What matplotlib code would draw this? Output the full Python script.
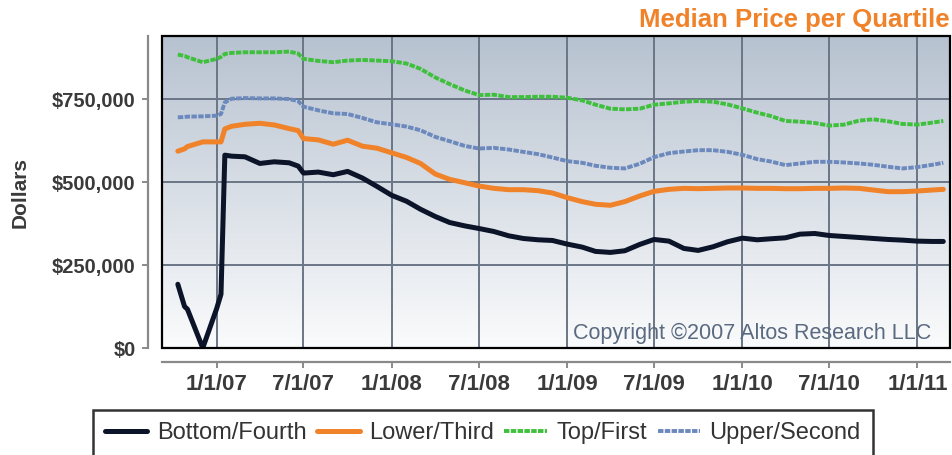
import numpy as np
import pandas as pd
import matplotlib
matplotlib.use("Agg")
import matplotlib.pyplot as plt
from matplotlib.colors import LinearSegmentedColormap
from matplotlib.patches import Rectangle
from matplotlib.ticker import FuncFormatter

plt.rcParams['font.family'] = ['Liberation Sans', 'DejaVu Sans']

# dates of the readings (one list shared by the four quartiles)
dates = ["2006-10-12", "2006-10-26", "2006-11-01", "2006-12-03", "2007-01-01",
         "2007-01-10", "2007-01-18", "2007-02-01", "2007-03-01", "2007-04-01",
         "2007-05-01", "2007-06-01", "2007-06-20", "2007-07-01", "2007-08-01",
         "2007-09-01", "2007-10-01", "2007-11-01", "2007-12-01", "2008-01-01",
         "2008-02-01", "2008-03-01", "2008-04-01", "2008-05-01", "2008-06-01",
         "2008-07-01", "2008-08-01", "2008-09-01", "2008-10-01", "2008-11-01",
         "2008-12-01", "2009-01-01", "2009-02-01", "2009-03-01", "2009-04-01",
         "2009-05-01", "2009-06-01", "2009-07-01", "2009-08-01", "2009-09-01",
         "2009-10-01", "2009-11-01", "2009-12-01", "2010-01-01", "2010-02-01",
         "2010-03-01", "2010-04-01", "2010-05-01", "2010-06-01", "2010-07-01",
         "2010-08-01", "2010-09-01", "2010-10-01", "2010-11-01", "2010-12-01",
         "2011-01-01", "2011-02-01", "2011-02-24"]

# median price, thousands of dollars
bottom_fourth = [192, 125, 117, 0, 119, 162, 581, 578, 576, 556,
                 561, 558, 548, 527, 530, 522, 532, 512, 487, 460,
                 442, 418, 396, 378, 368, 360, 351, 338, 330, 326,
                 324, 313, 304, 291, 288, 293, 312, 327, 322, 300,
                 294, 305, 320, 331, 326, 329, 332, 343, 345, 339,
                 336, 333, 330, 327, 325, 322, 321, 321]
lower_third = [593, 600, 607, 621, 621, 621, 660, 668, 674, 677,
               672, 661, 655, 631, 627, 614, 626, 608, 602, 588,
               574, 556, 524, 508, 498, 488, 481, 477, 477, 474,
               467, 453, 441, 433, 430, 441, 458, 472, 478, 481,
               480, 481, 482, 482, 481, 481, 480, 480, 481, 481,
               482, 481, 476, 471, 471, 473, 476, 478]
top_first = [884, 880, 876, 861, 871, 877, 886, 889, 891, 891,
             891, 893, 887, 871, 865, 861, 866, 868, 866, 864,
             857, 841, 815, 795, 776, 762, 763, 756, 756, 757,
             757, 754, 746, 733, 721, 719, 721, 733, 737, 742,
             744, 742, 734, 722, 709, 699, 684, 682, 678, 670,
             673, 685, 689, 683, 675, 673, 679, 684]
upper_second = [695, 696, 697, 698, 700, 705, 740, 751, 753, 752,
                752, 750, 744, 727, 716, 707, 705, 693, 680, 674,
                667, 656, 636, 623, 609, 601, 603, 598, 591, 584,
                574, 563, 558, 549, 543, 541, 555, 575, 587, 592,
                596, 596, 591, 582, 569, 562, 551, 556, 561, 561,
                559, 556, 552, 546, 541, 545, 552, 558]

tick_dates = ["2007-01-01", "2007-07-01", "2008-01-01", "2008-07-01", "2009-01-01",
              "2009-07-01", "2010-01-01", "2010-07-01", "2011-01-01"]
tick_labels = ["1/1/07", "7/1/07", "1/1/08", "7/1/08", "1/1/09",
               "7/1/09", "1/1/10", "7/1/10", "1/1/11"]

x = pd.to_datetime(dates)
k = 1000

fig = plt.figure(figsize=(9.53, 4.55), dpi=100)
pos = [162/953, 1-348/455, (950-162)/953, (348-36)/455]

# gradient behind the plot
bg = fig.add_axes(pos, zorder=0)
cmap = LinearSegmentedColormap.from_list("bg", ["#fafbfc", "#b7c2d0"])
bg.imshow(np.linspace(1, 0, 256).reshape(-1, 1), cmap=cmap, aspect="auto",
          extent=[0, 1, 0, 1])
bg.axis("off")

ax = fig.add_axes(pos, zorder=1)
ax.patch.set_visible(False)

ax.plot(x, np.array(bottom_fourth)*k, color="#0b1429", lw=3.6,
        solid_capstyle="round", label="Bottom/Fourth", zorder=5)
ax.plot(x, np.array(lower_third)*k, color="#f0822a", lw=3.6,
        solid_capstyle="round", label="Lower/Third", zorder=4)
ax.plot(x, np.array(top_first)*k, color="#3fc03c", lw=2.8,
        ls=(0, (1.4, 0.35)), label="Top/First", zorder=3)
ax.plot(x, np.array(upper_second)*k, color="#6b89bd", lw=2.8,
        ls=(0, (1.4, 0.35)), label="Upper/Second", zorder=3)

ax.set_xlim(pd.Timestamp("2006-09-09"), pd.Timestamp("2011-03-10"))
ax.set_ylim(0, 940000)
ax.set_xticks(pd.to_datetime(tick_dates))
ax.set_xticklabels(tick_labels)
ax.set_yticks([0, 250000, 500000, 750000])
ax.yaxis.set_major_formatter(FuncFormatter(lambda v, p: "${:,.0f}".format(v)))

ax.grid(True, color="#6a7686", lw=1.4)
ax.set_axisbelow(True)

for s in ["top", "right"]:
    ax.spines[s].set_visible(False)
for s in ["left", "bottom"]:
    ax.spines[s].set_position(("outward", 10))
    ax.spines[s].set_color("#8a8a8a")
    ax.spines[s].set_linewidth(1.6)
ax.tick_params(colors="#8a8a8a", width=1.4, length=4)
ax.tick_params(labelcolor="#3a3a3a")
ax.tick_params(axis="y", labelsize=14.5, pad=5)
ax.tick_params(axis="x", labelsize=16, pad=5)
for t in ax.get_xticklabels() + ax.get_yticklabels():
    t.set_fontweight("bold")

ax.add_patch(Rectangle((0, 0), 1, 1, transform=ax.transAxes, fill=False,
                       edgecolor="black", lw=1.6, clip_on=False, zorder=10))

ax.set_ylabel("Dollars", fontsize=15, fontweight="bold", color="#3a3a3a", labelpad=16)

ax.text(0.976, 0.012, "Copyright \u00a92007 Altos Research LLC", transform=ax.transAxes,
        ha="right", va="bottom", fontsize=15.5, color="#5a6a80", zorder=6)

fig.text(950/953, 1-20/455, "Median Price per Quartile", ha="right", va="center",
         fontsize=18.5, fontweight="bold", color="#f0822a")

leg = fig.legend(loc="upper left", bbox_to_anchor=(93/953, 1-410/455), ncol=4,
                 fontsize=17, frameon=True, fancybox=False, handlelength=1.8,
                 handletextpad=0.4, columnspacing=0.45, borderpad=0.5,
                 borderaxespad=0, labelcolor="#333333")
leg.get_frame().set_edgecolor("black")
leg.get_frame().set_linewidth(1.8)

fig.savefig("out.png", dpi=100)
